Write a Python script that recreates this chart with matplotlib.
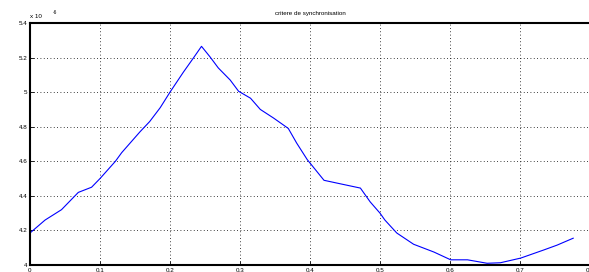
import matplotlib
matplotlib.use('Agg')
import matplotlib.pyplot as plt

plt.rcParams['font.family'] = ['Liberation Sans', 'DejaVu Sans']

#--------------------------------------------
# data
#--------------------------------------------
x_vals = [0.0, 0.0215, 0.045, 0.069, 0.088, 0.100, 0.122, 0.131, 0.157, 0.171,
          0.186, 0.200, 0.219, 0.233, 0.245, 0.257, 0.269, 0.286, 0.298, 0.315,
          0.329, 0.348, 0.369, 0.381, 0.396, 0.408, 0.420, 0.443, 0.472, 0.486,
          0.500, 0.507, 0.524, 0.548, 0.577, 0.601, 0.625, 0.653, 0.672, 0.701,
          0.734, 0.753, 0.776]
y_vals = [4.185, 4.26, 4.32, 4.42, 4.45, 4.50, 4.60, 4.65, 4.77, 4.83,
          4.91, 5.00, 5.115, 5.195, 5.265, 5.205, 5.14, 5.07, 5.005, 4.965,
          4.90, 4.85, 4.79, 4.705, 4.61, 4.55, 4.49, 4.47, 4.445, 4.365,
          4.30, 4.26, 4.185, 4.12, 4.075, 4.03, 4.03, 4.01, 4.013, 4.04,
          4.087, 4.115, 4.155]
x_ticks = [0, 0.1, 0.2, 0.3, 0.4, 0.5, 0.6, 0.7, 0.8]
x_labels = ['0', '0.1', '0.2', '0.3', '0.4', '0.5', '0.6', '0.7', '0.8']
y_ticks = [4.0, 4.2, 4.4, 4.6, 4.8, 5.0, 5.2, 5.4]
y_labels = ['4', '4.2', '4.4', '4.6', '4.8', '5', '5.2', '5.4']

fig = plt.figure(figsize=(5.89, 2.72), dpi=100)
ax = fig.add_axes([30 / 589, 1 - 265 / 272, 560 / 589, 242 / 272])

ax.plot(x_vals, y_vals, color='blue', linewidth=0.8)

ax.set_xlim(0, 0.8)
ax.set_ylim(4.0, 5.4)
ax.set_xticks(x_ticks)
ax.set_xticklabels(x_labels, fontsize=4.5)
ax.set_yticks(y_ticks)
ax.set_yticklabels(y_labels, fontsize=4.5)
ax.tick_params(direction='in', length=3, width=0.6, pad=2)

# grille pointillee
ax.grid(True, color='black', linestyle=(0, (1, 3)), linewidth=0.6)

for side in ['left', 'bottom', 'top']:
    ax.spines[side].set_linewidth(1.5)
ax.spines['right'].set_visible(False)

ax.set_title('critere de synchronisation', fontsize=4.5, pad=6)
ax.text(0.0, 1.015, 'x 10', transform=ax.transAxes, fontsize=4.5,
        ha='left', va='bottom')
ax.text(0.040, 1.035, '-6', transform=ax.transAxes, fontsize=3.5,
        ha='left', va='bottom')

fig.savefig('out.png', dpi=100)
